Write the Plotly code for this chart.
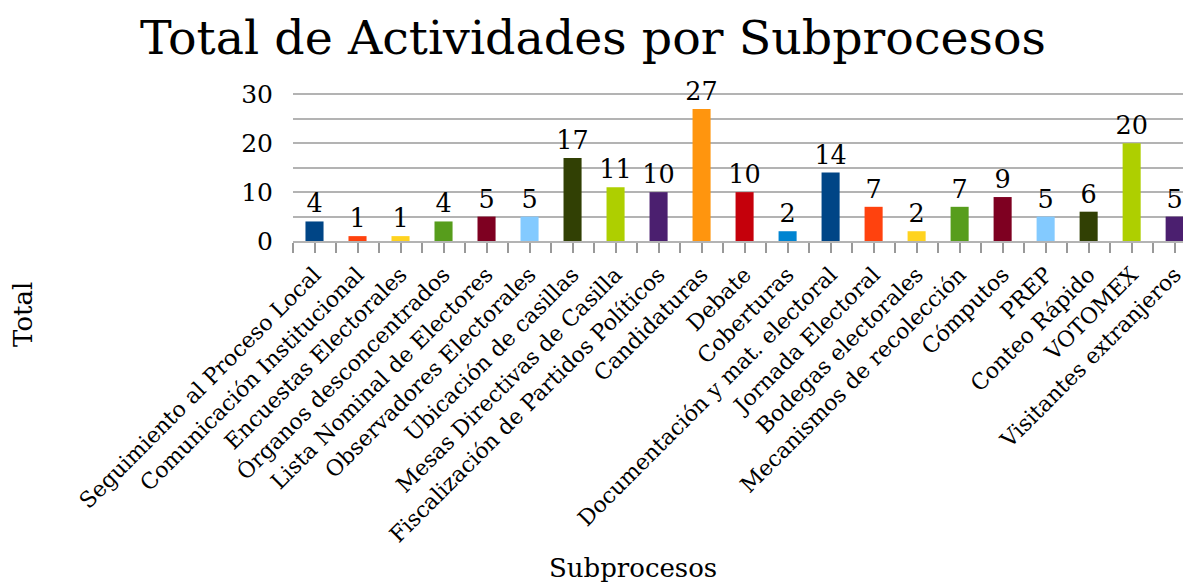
"""Bar chart: total de actividades por subproceso."""

import plotly.graph_objects as go

categories = [
    "Seguimiento al Proceso Local", "Comunicación Institucional", "Encuestas Electorales",
    "Órganos desconcentrados", "Lista Nominal de Electores", "Observadores Electorales",
    "Ubicación de casillas", "Mesas Directivas de Casilla", "Fiscalización de Partidos Políticos",
    "Candidaturas", "Debate", "Coberturas", "Documentación y mat. electoral",
    "Jornada Electoral", "Bodegas electorales", "Mecanismos de recolección", "Cómputos",
    "PREP", "Conteo Rápido", "VOTOMEX", "Visitantes extranjeros",
]
totals = [4, 1, 1, 4, 5, 5, 17, 11, 10, 27, 10, 2, 14, 7, 2, 7, 9, 5, 6, 20, 5]
y_ticks = [0, 10, 20, 30]

# LibreOffice default chart palette, cycled
PALETTE = [
    '#004586', '#ff420e', '#ffd320', '#579d1c', '#7e0021', '#83caff',
    '#314004', '#aecf00', '#4b1f6f', '#ff950e', '#c5000b', '#0084d1',
]

FONT = "DejaVu Serif"
GRID = "#b3b3b3"
TICK = "#999999"

positions = list(range(len(categories)))
boundaries = [p - 0.5 for p in positions] + [positions[-1] + 0.5]
colors = [PALETTE[i % len(PALETTE)] for i in positions]

fig = go.Figure()

fig.add_trace(go.Bar(
    x=positions,
    y=totals,
    marker={'color': colors, 'line': {'width': 0}},
    text=[str(v) for v in totals],
    textposition='outside',
    constraintext='none',
    textfont={'family': FONT, 'size': 25.5, 'color': 'black'},
    cliponaxis=False,
    showlegend=False,
))

# the original chart is cut off a little before the last category boundary
x_range = [-0.5, len(categories) - 0.62]

# page body adds an 8px margin, so the figure is 8px smaller than the window
fig.update_layout(
    width=1183,
    height=574,
    margin={'l': 285, 'r': 0, 't': 85, 'b': 341},
    plot_bgcolor='white',
    paper_bgcolor='white',
    bargap=0.58,
    font={'family': FONT, 'color': 'black'},
    title={
        'text': "Total de Actividades por Subprocesos",
        'font': {'family': FONT, 'size': 47.5, 'color': 'black'},
        'x': 0.4945, 'xanchor': 'center',
        'y': 0.9495, 'yanchor': 'middle',
    },
    xaxis={
        'range': x_range,
        'tickvals': positions,
        'ticktext': categories,
        'tickangle': -45,
        'tickfont': {'family': FONT, 'size': 22, 'color': 'black'},
        'ticks': 'outside',
        'ticklen': 10,
        'tickwidth': 2,
        'tickcolor': TICK,
        'minor': {'tickvals': boundaries, 'ticks': 'outside', 'ticklen': 10,
                  'tickwidth': 2, 'tickcolor': TICK},
        'showline': True,
        'linecolor': GRID,
        'linewidth': 2,
        'showgrid': False,
        'zeroline': False,
    },
    # second x axis only to draw the inner half of the boundary ticks
    xaxis2={
        'overlaying': 'x',
        'anchor': 'y',
        'side': 'bottom',
        'range': x_range,
        'tickvals': boundaries,
        'showticklabels': False,
        'ticks': 'inside',
        'ticklen': 11,
        'tickwidth': 2,
        'tickcolor': TICK,
        'showgrid': False,
        'zeroline': False,
        'showline': False,
    },
    yaxis={
        'range': [0, 30.3],
        'tickvals': y_ticks,
        'tickfont': {'family': FONT, 'size': 25, 'color': 'black'},
        'ticks': '',
        'showgrid': True,
        'gridcolor': GRID,
        'gridwidth': 2,
        'minor': {'dtick': 5, 'showgrid': True, 'gridcolor': GRID, 'gridwidth': 2},
        'zeroline': False,
        'showline': False,
        'ticklabelstandoff': 19,
    },
)

# axis titles placed as in the original (centered on the chart, not the plot area)
fig.add_annotation(text="Total", xref='paper', yref='paper', x=-0.3007, y=-0.493,
                   xanchor='center', yanchor='middle',
                   textangle=-90, showarrow=False,
                   font={'family': FONT, 'size': 26, 'color': 'black'})
fig.add_annotation(text="Subprocesos", xref='paper', yref='paper', x=0.3786, y=-2.209,
                   xanchor='center', yanchor='middle',
                   showarrow=False, font={'family': FONT, 'size': 26, 'color': 'black'})

fig.write_html("out.html")
